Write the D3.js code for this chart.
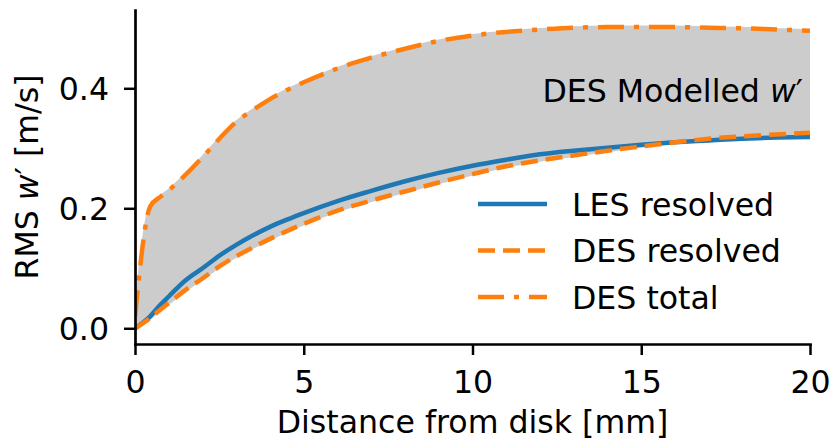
<!DOCTYPE html>
<html>
<head>
<meta charset="utf-8">
<script src="https://cdn.jsdelivr.net/npm/d3@7/dist/d3.min.js"></script>
<style>
  html, body { margin: 0; padding: 0; background: #fff; }
  svg { display: block; font-family: "DejaVu Sans", sans-serif; }
</style>
</head>
<body>
<svg id="chart" width="830" height="444"></svg>
<script>
// Distance from disk [mm]
const distance = [0, 0.45, 0.75, 1, 1.5, 2, 2.5, 3, 3.5, 4, 4.5, 5, 6, 7, 8, 9, 10, 11, 12, 13, 14, 15, 16, 17, 18, 19, 20];
// RMS w' [m/s]
const lesResolved = [0, 0.02, 0.039, 0.053, 0.08, 0.1, 0.121, 0.139, 0.155, 0.169, 0.181, 0.192, 0.212, 0.229, 0.245, 0.259, 0.271, 0.281, 0.29, 0.296, 0.301, 0.306, 0.31, 0.313, 0.316, 0.318, 0.319];
const desResolved = [0, 0.017, 0.031, 0.042, 0.064, 0.083, 0.103, 0.12, 0.135, 0.149, 0.162, 0.174, 0.196, 0.213, 0.228, 0.243, 0.257, 0.27, 0.28, 0.288, 0.296, 0.303, 0.31, 0.316, 0.32, 0.323, 0.326];
const desTotal = [0.02, 0.203, 0.219, 0.23, 0.256, 0.285, 0.316, 0.344, 0.364, 0.382, 0.397, 0.41, 0.433, 0.451, 0.466, 0.479, 0.488, 0.494, 0.498, 0.501, 0.502, 0.502, 0.502, 0.501, 0.5, 0.498, 0.496];
const xTicks = [0, 5, 10, 15, 20];
const yTicks = [0.0, 0.2, 0.4];
const seriesNames = ["LES resolved", "DES resolved", "DES total"];

const blue = "#1f77b4", orange = "#ff7f0e", shade = "#cccccc";
const lw = 4.5;
const dashed = "17,8";
const dashDot = "26,10,5,10";

const svg = d3.select("#chart");
const plotLeft = 135, plotRight = 810, plotTop = 10, plotBottom = 344;

const x = d3.scaleLinear().domain([0, 20]).range([plotLeft, plotRight]);
const y = d3.scaleLinear().domain([-0.0262, 0.5305]).range([plotBottom, plotTop]);

svg.append("defs").append("clipPath").attr("id", "plotArea")
  .append("rect").attr("x", plotLeft).attr("y", plotTop)
  .attr("width", plotRight - plotLeft).attr("height", plotBottom - plotTop);

const plot = svg.append("g").attr("clip-path", "url(#plotArea)");

const rows = distance.map((d, i) => ({
  x: d, les: lesResolved[i], desRes: desResolved[i], desTot: desTotal[i]
}));

const curve = d3.curveMonotoneX;

// Modelled contribution: band between DES resolved and DES total
plot.append("path")
  .datum(rows)
  .attr("d", d3.area().curve(curve).x(d => x(d.x)).y0(d => y(d.desRes)).y1(d => y(d.desTot)))
  .attr("fill", shade)
  .attr("stroke", shade)
  .attr("stroke-width", 3)
  .attr("stroke-linejoin", "round");

const lineOf = key => d3.line().curve(curve).x(d => x(d.x)).y(d => y(d[key]));

plot.append("path").datum(rows).attr("d", lineOf("les"))
  .attr("fill", "none").attr("stroke", blue).attr("stroke-width", lw);
plot.append("path").datum(rows).attr("d", lineOf("desRes"))
  .attr("fill", "none").attr("stroke", orange).attr("stroke-width", lw)
  .attr("stroke-dasharray", dashed);
plot.append("path").datum(rows).attr("d", lineOf("desTot"))
  .attr("fill", "none").attr("stroke", orange).attr("stroke-width", lw)
  .attr("stroke-dasharray", dashDot);

// Axes
const fontSize = 31.6;
const xAxis = svg.append("g").attr("transform", `translate(0,${plotBottom})`)
  .call(d3.axisBottom(x).tickValues(xTicks).tickFormat(d3.format("d")).tickSize(11).tickSizeOuter(0));
const yAxis = svg.append("g").attr("transform", `translate(${plotLeft},0)`)
  .call(d3.axisLeft(y).tickValues(yTicks).tickFormat(d3.format(".1f")).tickSize(11).tickSizeOuter(0));

[xAxis, yAxis].forEach(g => {
  g.select(".domain").attr("stroke", "#000").attr("stroke-width", 2.7).attr("stroke-linecap", "square");
  g.selectAll(".tick line").attr("stroke", "#000").attr("stroke-width", 2.5);
  g.selectAll(".tick text").attr("fill", "#000").attr("font-size", fontSize)
    .attr("font-family", "DejaVu Sans");
});
xAxis.selectAll(".tick text").attr("y", 49).attr("dy", 0);
yAxis.selectAll(".tick text").attr("x", -26).attr("dy", "0.36em");

// Axis titles
svg.append("text")
  .attr("x", (plotLeft + plotRight) / 2).attr("y", 433)
  .attr("text-anchor", "middle").attr("font-size", fontSize)
  .text("Distance from disk [mm]");

const yTitle = svg.append("text")
  .attr("transform", `translate(38,${(plotTop + plotBottom) / 2}) rotate(-90)`)
  .attr("text-anchor", "middle").attr("font-size", fontSize);
yTitle.append("tspan").text("RMS ");
yTitle.append("tspan").attr("font-style", "italic").text("w");
yTitle.append("tspan").text("′ [m/s]");

// Band annotation
const note = svg.append("text")
  .attr("x", 803).attr("y", 102)
  .attr("text-anchor", "end").attr("font-size", fontSize);
note.append("tspan").text("DES Modelled ");
note.append("tspan").attr("font-style", "italic").text("w");
note.append("tspan").text("′");

// Legend
const legendStyles = [
  { color: blue, dash: null },
  { color: orange, dash: dashed },
  { color: orange, dash: dashDot }
];
const legend = svg.append("g");
seriesNames.forEach((name, i) => {
  const cy = 204 + i * 46.5;
  const ln = legend.append("line")
    .attr("x1", 478).attr("x2", 547).attr("y1", cy).attr("y2", cy)
    .attr("stroke", legendStyles[i].color).attr("stroke-width", lw);
  if (legendStyles[i].dash) ln.attr("stroke-dasharray", legendStyles[i].dash);
  legend.append("text")
    .attr("x", 572).attr("y", cy + 11.5)
    .attr("font-size", fontSize)
    .text(name);
});
</script>
</body>
</html>
